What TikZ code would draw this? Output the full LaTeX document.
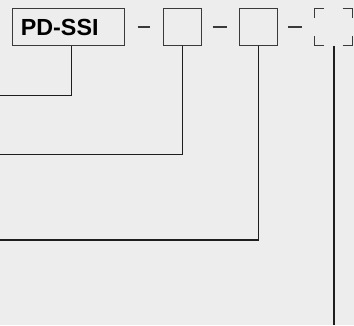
\documentclass[tikz,border=0pt]{standalone}
\usepackage{fontspec}
\setmainfont{Liberation Sans}
\definecolor{bg}{HTML}{ECEDEC}
\definecolor{boxline}{HTML}{3A3A3A}
\definecolor{wire}{HTML}{1E1E1E}
\begin{document}
\begin{tikzpicture}[x=1pt,y=-1pt,
  box/.style={draw=boxline,line width=1.1pt,minimum height=37.4pt,inner sep=0pt},
  ghost/.style={minimum width=37.3pt,minimum height=37.4pt,inner sep=0pt},
  wireline/.style={draw=wire,line width=1.1pt},
  dashline/.style={draw=boxline,line width=1.1pt},
  corner/.style={draw=boxline,line width=1.1pt}]
\fill[bg] (0,0) rectangle (354,325);
\useasboundingbox (0,0) rectangle (354,325);
\node[box,minimum width=111.3pt,text width=95pt,inner xsep=8.2pt,align=left,
  font=\fontsize{23.3}{25}\selectfont\bfseries] (pd) at (68.35,27) {PD-SSI};
\node[box,minimum width=38pt] (b2) at (182.3,27) {};
\node[box,minimum width=37.7pt] (b3) at (258.2,27) {};
\node[ghost] (b4) at (333.3,27) {};
% dashes between boxes
\draw[dashline] ([xshift=13pt]pd.east) -- ([xshift=-12.3pt]b2.west);
\draw[dashline] ([xshift=10.7pt]b2.east) -- ([xshift=-12.3pt]b3.west);
\draw[dashline] ([xshift=10.7pt]b3.east) -- ([xshift=-12pt]b4.west);
% corner brackets of the optional box
\draw[corner] ([xshift=9.6pt]b4.north west) -- (b4.north west) -- ([yshift=-9.6pt]b4.north west);
\draw[corner] ([xshift=-9.6pt]b4.north east) -- (b4.north east) -- ([yshift=-9.6pt]b4.north east);
\draw[corner] ([xshift=9.6pt]b4.south west) -- (b4.south west) -- ([yshift=9.6pt]b4.south west);
\draw[corner] ([xshift=-9.6pt]b4.south east) -- (b4.south east) -- ([yshift=9.6pt]b4.south east);
% connectors
\coordinate (e1) at (0,95.7);
\coordinate (e2) at (0,154.3);
\coordinate (e3) at (0,240);
\coordinate (e4) at (334,325);
\draw[wireline] ([xshift=3pt]pd.south) |- (e1);
\draw[wireline] ([xshift=0.4pt]b2.south) |- (e2);
\draw[wireline] (b3.south) |- (e3);
\draw[wireline] ([xshift=0.7pt]b4.south) -- (e4);
\end{tikzpicture}
\end{document}
